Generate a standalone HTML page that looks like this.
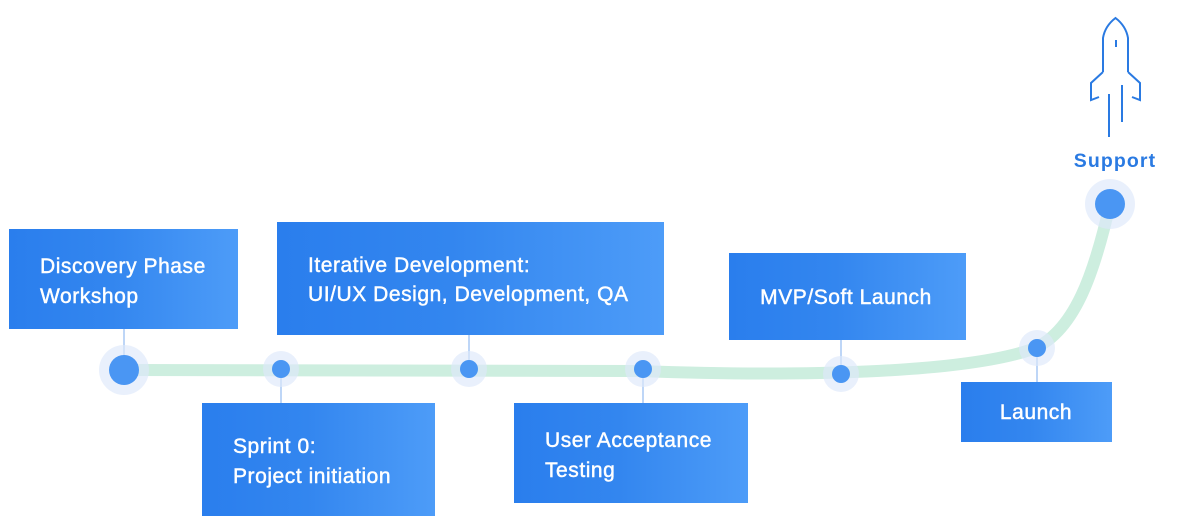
<!DOCTYPE html>
<html><head><meta charset="utf-8"><style>
html,body{margin:0;padding:0;background:#fff;}
svg{display:block;}
text{font-family:"Liberation Sans",sans-serif;}
.t{fill:#fff;font-size:21px;letter-spacing:0.55px;stroke:#fff;stroke-width:0.45px;}
</style></head><body>
<svg width="1183" height="531" viewBox="0 0 1183 531" xmlns="http://www.w3.org/2000/svg">
<defs>
<linearGradient id="g" x1="0" y1="0" x2="1" y2="0">
<stop offset="0" stop-color="#2a7eed"/>
<stop offset="0.45" stop-color="#3386ef"/>
<stop offset="1" stop-color="#4d9cf8"/>
</linearGradient>
</defs>
<!-- track -->
<path d="M124 370 L 640 371 C 800 377, 960 373, 1030 350 C 1075 334, 1095 270, 1110 204" fill="none" stroke="#cdeedf" stroke-width="12"/>
<!-- connectors -->
<g stroke="#a8c8f4" stroke-width="1.5">
<line x1="124" y1="329" x2="124" y2="370"/>
<line x1="281" y1="370" x2="281" y2="403"/>
<line x1="469" y1="335" x2="469" y2="369"/>
<line x1="643" y1="369" x2="643" y2="403"/>
<line x1="841" y1="340" x2="841" y2="374"/>
<line x1="1037" y1="348" x2="1037" y2="382"/>
</g>
<!-- nodes -->
<g fill="#dde8fb" fill-opacity="0.65">
<circle cx="124" cy="370" r="25"/>
<circle cx="281" cy="369" r="18"/>
<circle cx="469" cy="369" r="18"/>
<circle cx="643" cy="369" r="18"/>
<circle cx="841" cy="374" r="18"/>
<circle cx="1037" cy="348" r="18"/>
<circle cx="1110" cy="204" r="25"/>
</g>
<g fill="#4a96f3">
<circle cx="124" cy="370" r="15"/>
<circle cx="281" cy="369" r="9"/>
<circle cx="469" cy="369" r="9"/>
<circle cx="643" cy="369" r="9"/>
<circle cx="841" cy="374" r="9"/>
<circle cx="1037" cy="348" r="9"/>
<circle cx="1110" cy="204" r="15"/>
</g>
<!-- boxes -->
<rect x="9" y="229" width="229" height="100" fill="url(#g)"/>
<rect x="202" y="403" width="233" height="113" fill="url(#g)"/>
<rect x="277" y="222" width="387" height="113" fill="url(#g)"/>
<rect x="514" y="403" width="234" height="100" fill="url(#g)"/>
<rect x="729" y="253" width="237" height="87" fill="url(#g)"/>
<rect x="961" y="382" width="151" height="60" fill="url(#g)"/>
<!-- labels -->
<text class="t" x="40" y="273">Discovery Phase</text>
<text class="t" x="40" y="303">Workshop</text>
<text class="t" x="233" y="453">Sprint 0:</text>
<text class="t" x="233" y="483">Project initiation</text>
<text class="t" x="308" y="272">Iterative Development:</text>
<text class="t" x="308" y="301">UI/UX Design, Development, QA</text>
<text class="t" x="545" y="447">User Acceptance</text>
<text class="t" x="545" y="477">Testing</text>
<text class="t" x="846" y="304" text-anchor="middle">MVP/Soft Launch</text>
<text class="t" x="1036" y="419" text-anchor="middle">Launch</text>
<text x="1115" y="167" text-anchor="middle" fill="#2a7ae2" font-size="19.5" font-weight="bold" letter-spacing="1.1">Support</text>
<!-- rocket -->
<g fill="none" stroke="#2a7ae2" stroke-width="2" stroke-linecap="butt" stroke-linejoin="miter">
<path d="M1103 72 L1103 38 Q1105 26 1115.5 18 Q1126 26 1128 38 L1128 72"/>
<path d="M1103 72 L1091 83 L1091 100 L1099 97"/>
<path d="M1128 72 L1140 83 L1140 100 L1132 97"/>
<line x1="1116" y1="40" x2="1116" y2="47"/>
<line x1="1109" y1="94" x2="1109" y2="137"/>
<line x1="1122" y1="85" x2="1122" y2="122"/>
</g>
</svg>
</body></html>
